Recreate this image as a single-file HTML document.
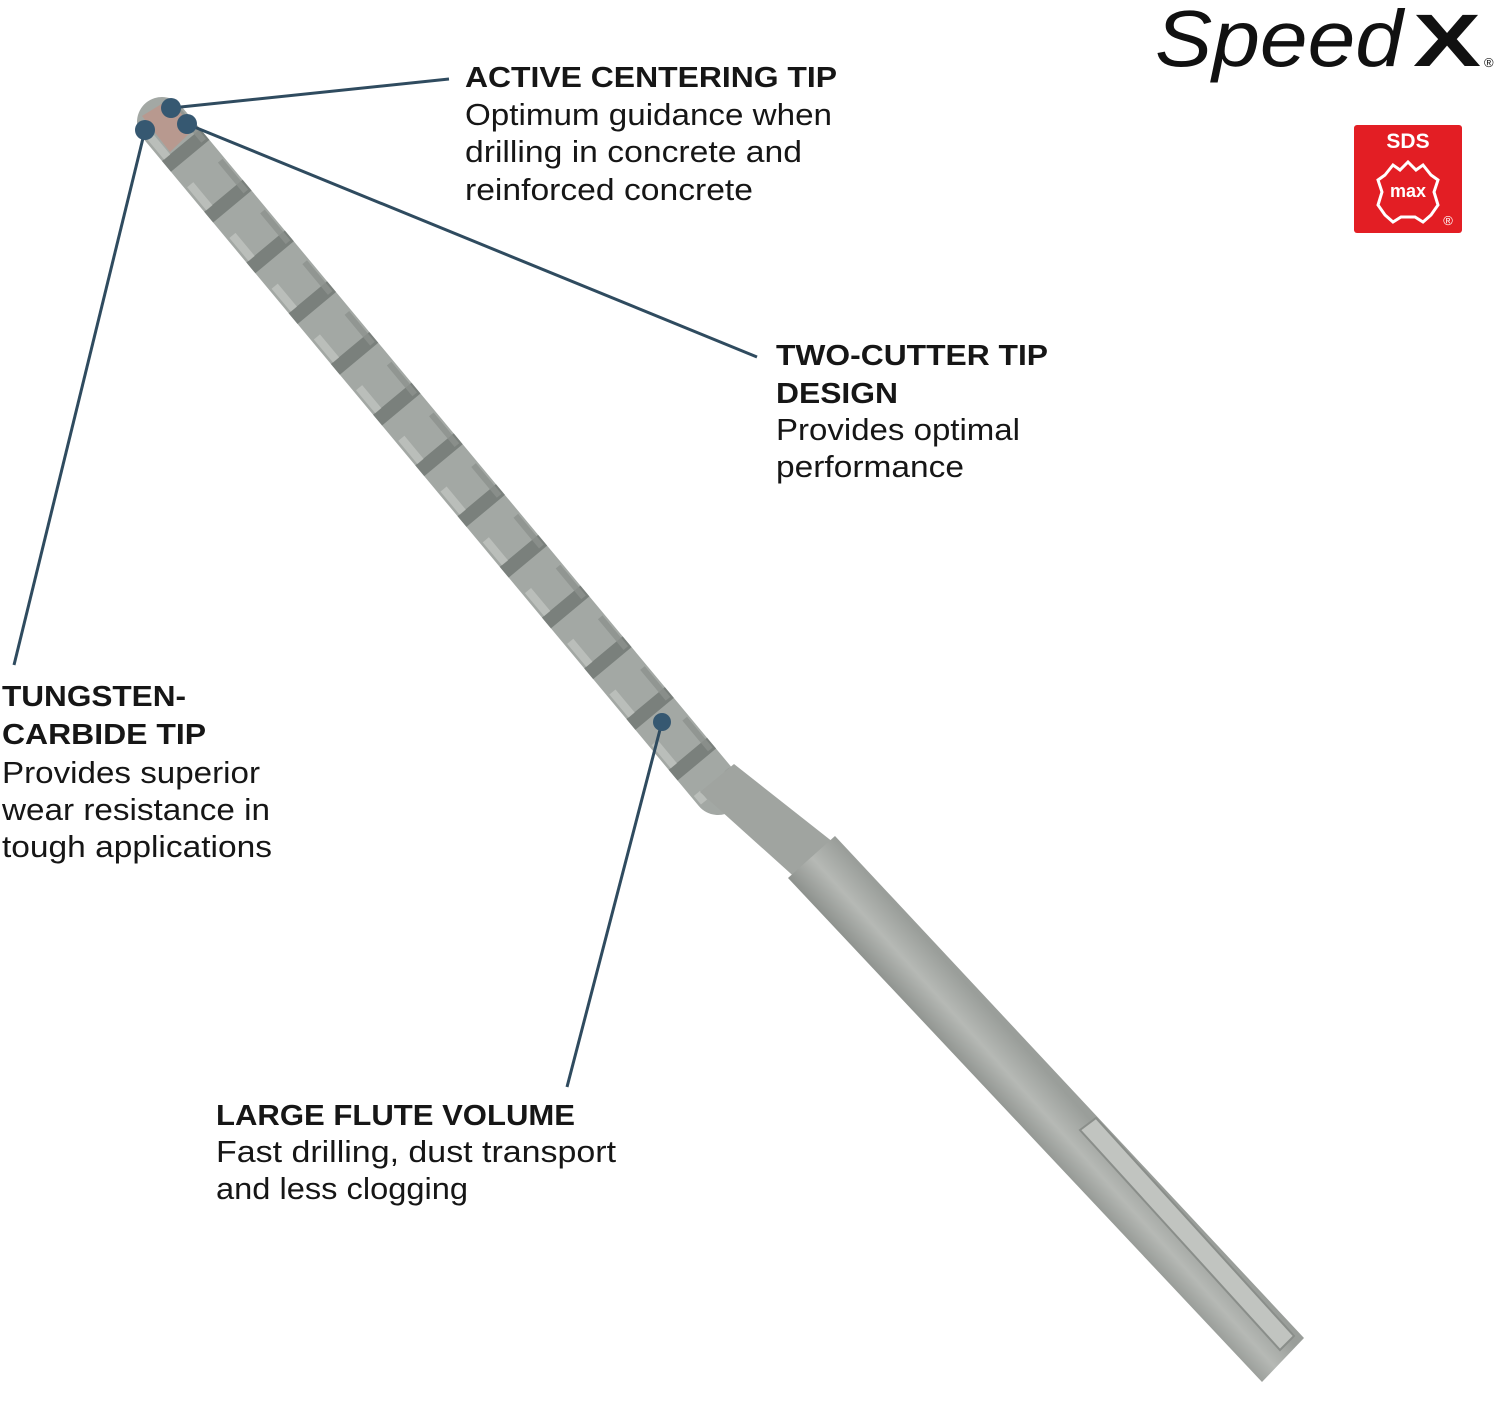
<!DOCTYPE html>
<html><head><meta charset="utf-8"><style>
html,body{margin:0;padding:0;background:#fff;}
svg{display:block;}
</style></head><body>
<svg width="1500" height="1401" viewBox="0 0 1500 1401" xmlns="http://www.w3.org/2000/svg">
<defs>
<linearGradient id="sh" gradientUnits="userSpaceOnUse" x1="792" y1="880" x2="836" y2="840">
<stop offset="0" stop-color="#8f938f"/><stop offset="0.5" stop-color="#b6b9b5"/><stop offset="1" stop-color="#9a9e9a"/>
</linearGradient>
</defs>
<!-- drill flute section -->
<line x1="162" y1="122" x2="718" y2="790" stroke="#a3a8a4" stroke-width="50" stroke-linecap="round"/>
<line x1="162" y1="122" x2="718" y2="790" stroke="#7a807c" stroke-width="50" stroke-dasharray="14 52" stroke-dashoffset="-30"/>
<line x1="148" y1="134" x2="704" y2="802" stroke="#c5c8c4" stroke-width="8" stroke-dasharray="30 36" opacity="0.7"/>
<line x1="178" y1="110" x2="734" y2="778" stroke="#8d928e" stroke-width="6" stroke-dasharray="40 26" opacity="0.8"/>
<path d="M142 116 L168 100 L195 128 L170 152 Z" fill="#b8998f"/>
<!-- neck -->
<polygon points="700,792 734,764 838,846 800,882" fill="#a0a4a0"/>
<!-- shank -->
<polygon points="788,878 835,836 1304,1338 1262,1382" fill="url(#sh)"/>
<polygon points="1080,1130 1096,1118 1294,1336 1280,1350" fill="#c1c4c0" stroke="#8a8e8a" stroke-width="2"/>
<!-- leader lines -->
<g stroke="#2f4b5f" stroke-width="3" fill="none">
<line x1="171" y1="108" x2="449" y2="79"/>
<line x1="187" y1="124" x2="757" y2="357"/>
<line x1="145" y1="130" x2="14" y2="665"/>
<line x1="662" y1="722" x2="567" y2="1087"/>
</g>
<g fill="#365871">
<circle cx="171" cy="108" r="10"/>
<circle cx="145" cy="130" r="10"/>
<circle cx="187" cy="124" r="10"/>
<circle cx="662" cy="722" r="9"/>
</g>
<!-- text -->
<g font-family="Liberation Sans, sans-serif" fill="#161616" lengthAdjust="spacingAndGlyphs">
<g font-weight="bold" font-size="29">
<text x="465" y="87" textLength="372" lengthAdjust="spacingAndGlyphs">ACTIVE CENTERING TIP</text>
<text x="776" y="365" textLength="272" lengthAdjust="spacingAndGlyphs">TWO-CUTTER TIP</text>
<text x="776" y="403" textLength="122" lengthAdjust="spacingAndGlyphs">DESIGN</text>
<text x="2" y="706" textLength="184" lengthAdjust="spacingAndGlyphs">TUNGSTEN-</text>
<text x="2" y="744" textLength="204" lengthAdjust="spacingAndGlyphs">CARBIDE TIP</text>
<text x="216" y="1125" textLength="359" lengthAdjust="spacingAndGlyphs">LARGE FLUTE VOLUME</text>
</g>
<g font-size="31">
<text x="465" y="125" textLength="367" lengthAdjust="spacingAndGlyphs">Optimum guidance when</text>
<text x="465" y="162" textLength="337" lengthAdjust="spacingAndGlyphs">drilling in concrete and</text>
<text x="465" y="200" textLength="288" lengthAdjust="spacingAndGlyphs">reinforced concrete</text>
<text x="776" y="440" textLength="244" lengthAdjust="spacingAndGlyphs">Provides optimal</text>
<text x="776" y="477" textLength="188" lengthAdjust="spacingAndGlyphs">performance</text>
<text x="2" y="783" textLength="258" lengthAdjust="spacingAndGlyphs">Provides superior</text>
<text x="2" y="820" textLength="268" lengthAdjust="spacingAndGlyphs">wear resistance in</text>
<text x="2" y="857" textLength="270" lengthAdjust="spacingAndGlyphs">tough applications</text>
<text x="216" y="1162" textLength="400" lengthAdjust="spacingAndGlyphs">Fast drilling, dust transport</text>
<text x="216" y="1199" textLength="252" lengthAdjust="spacingAndGlyphs">and less clogging</text>
</g>
<text x="1155" y="66" font-size="80" font-style="italic" textLength="248" lengthAdjust="spacingAndGlyphs" fill="#111">Speed</text>
<text x="1413" y="66" font-size="74" font-weight="bold" textLength="68" lengthAdjust="spacingAndGlyphs" fill="#111">X</text>
<text x="1484" y="67" font-size="13" fill="#111">®</text>
</g>
<!-- SDS max logo -->
<rect x="1354" y="125" width="108" height="108" rx="3" fill="#e31e24"/>
<text x="1408" y="148" font-family="Liberation Sans, sans-serif" font-weight="bold" font-size="21" fill="#fff" text-anchor="middle">SDS</text>
<path d="M1385 175 L1393 165 L1400 170 L1408 162 L1416 170 L1423 165 L1431 175 L1438 180 L1434 192 L1438 205 L1431 215 L1423 222 L1415 217 L1401 217 L1393 222 L1385 215 L1378 205 L1382 192 L1378 180 Z" fill="none" stroke="#fff" stroke-width="3"/>
<text x="1408" y="197" font-family="Liberation Sans, sans-serif" font-weight="bold" font-size="18" fill="#fff" text-anchor="middle">max</text>
<text x="1448" y="225" font-family="Liberation Sans, sans-serif" font-size="13" fill="#fff" text-anchor="middle">®</text>
</svg>
</body></html>
